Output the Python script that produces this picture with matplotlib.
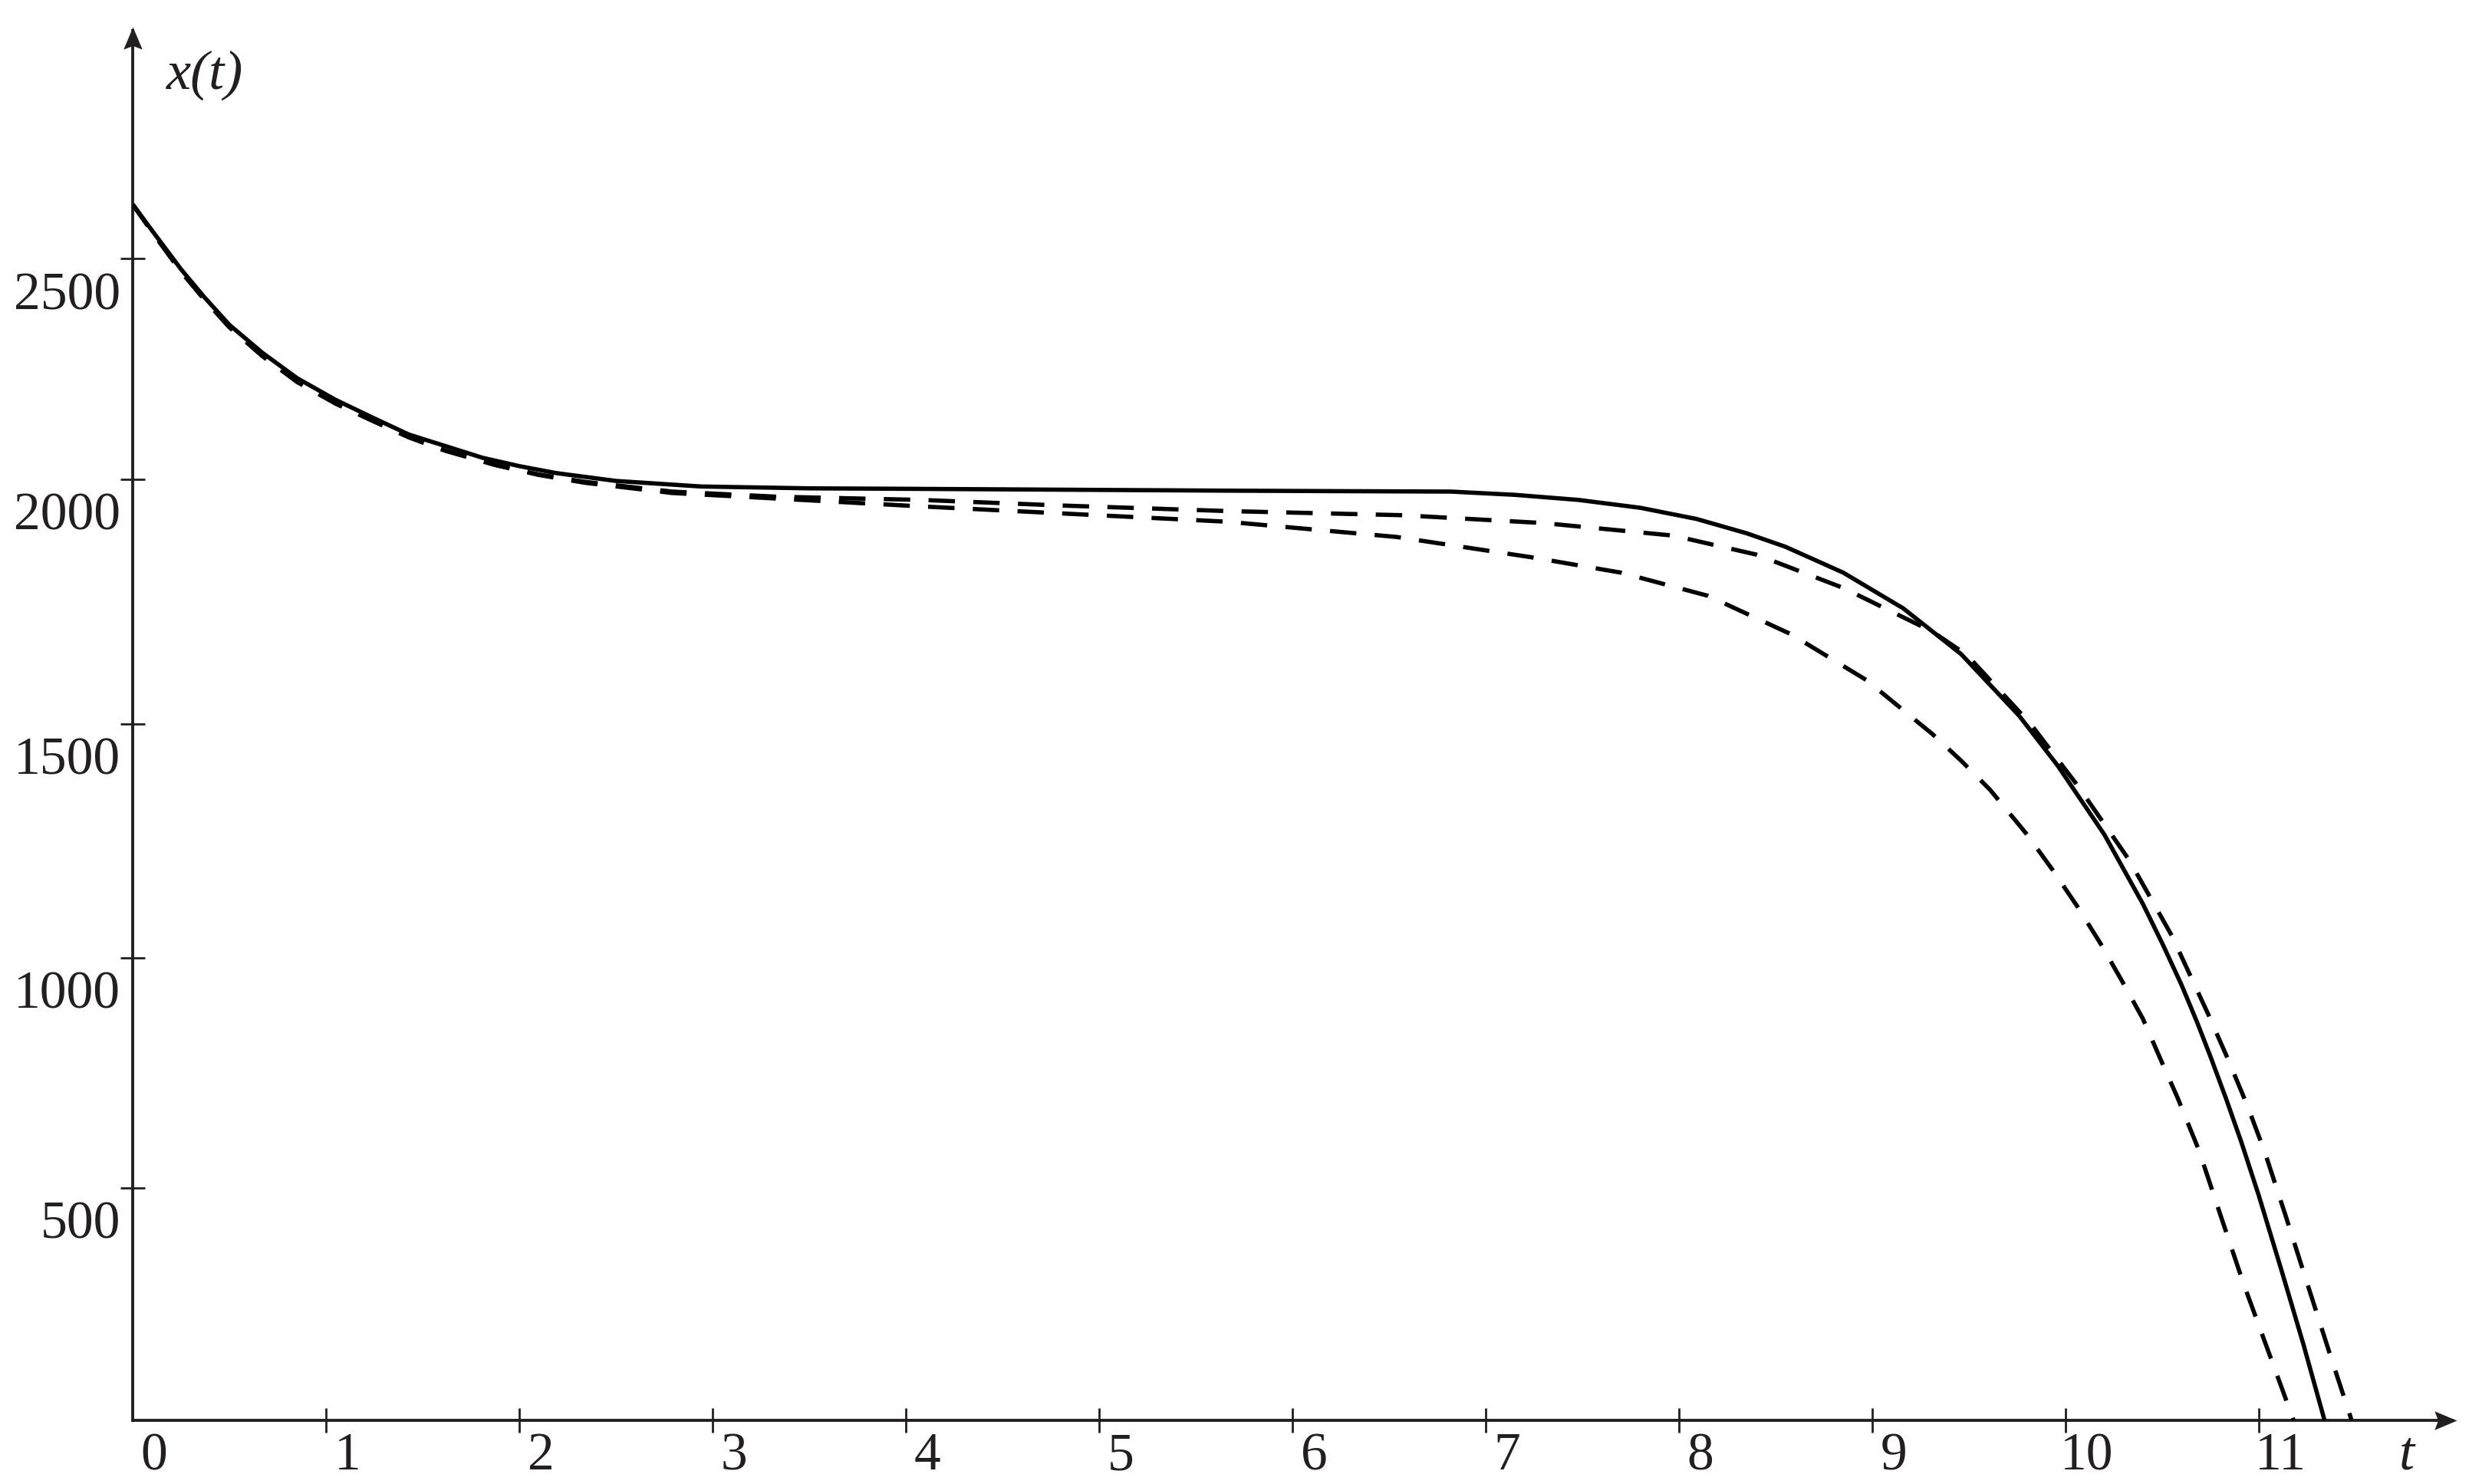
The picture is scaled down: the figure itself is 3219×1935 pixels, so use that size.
import matplotlib
matplotlib.use("Agg")
import matplotlib.pyplot as plt
from matplotlib.transforms import ScaledTranslation
from matplotlib.path import Path

# ---------------- data ----------------
t_solid = [0.00, 0.11, 0.25, 0.37, 0.50, 0.67, 0.85, 1.05, 1.25, 1.43, 1.62, 1.81,
           2.00, 2.19, 2.50, 2.94, 3.50, 4.00, 4.84, 5.66, 6.20, 6.82, 7.15, 7.48,
           7.80, 8.09, 8.35, 8.55, 8.85, 9.16, 9.46, 9.76, 9.96, 10.20, 10.40,
           10.50, 10.60, 10.68, 10.75, 10.83, 10.91, 11.00, 11.12, 11.23, 11.34]
x_solid = [2625, 2563, 2485, 2425, 2365, 2305, 2250, 2203, 2163, 2128, 2103, 2078,
           2060, 2045, 2028, 2016, 2012, 2011, 2009, 2007, 2006, 2005, 1998, 1987,
           1970, 1946, 1915, 1886, 1830, 1753, 1654, 1521, 1413, 1265, 1115,
           1030, 940, 860, 785, 695, 600, 485, 320, 165, 0]

t_dash_a = [0.00, 0.11, 0.25, 0.37, 0.50, 0.67, 0.85, 1.05, 1.24, 1.43, 1.62, 1.88,
            2.10, 2.34, 2.79, 3.33, 4.08, 4.80, 5.66, 6.57, 7.30, 7.97, 8.40, 8.85,
            9.31, 9.49, 9.82, 10.07, 10.33, 10.55, 10.74, 10.84, 10.94, 11.03,
            11.14, 11.25, 11.37, 11.48]
x_dash_a = [2625, 2560, 2480, 2420, 2360, 2298, 2242, 2195, 2158, 2122, 2093, 2062,
            2042, 2026, 2005, 1994, 1987, 1975, 1963, 1954, 1937, 1910, 1869, 1797,
            1703, 1652, 1503, 1366, 1209, 1046, 875, 780, 680, 580,
            440, 296, 140, 0]

t_dash_b = [0.00, 0.11, 0.25, 0.37, 0.50, 0.67, 0.85, 1.05, 1.24, 1.43, 1.62, 1.88,
            2.10, 2.34, 2.79, 3.33, 4.08, 4.80, 5.66, 6.54, 7.24, 7.70, 8.15, 8.58,
            8.97, 9.31, 9.46, 9.61, 9.80, 9.93, 10.06, 10.18, 10.29, 10.40, 10.49,
            10.58, 10.69, 10.80, 10.92, 11.05, 11.18]
x_dash_b = [2625, 2560, 2480, 2420, 2360, 2298, 2242, 2195, 2158, 2122, 2093, 2062,
            2041, 2024, 2002, 1990, 1973, 1958, 1940, 1907, 1863, 1830, 1780, 1697,
            1598, 1482, 1424, 1361, 1265, 1190, 1110, 1030, 950, 867, 781,
            696, 583, 445, 296, 148, 0]

x_tick_pos = [0, 1, 2, 3, 4, 5, 6, 7, 8, 9, 10, 11]
x_tick_labels = ["0", "1", "2", "3", "4", "5", "6", "7", "8", "9", "10", "11"]
y_tick_pos = [502, 999, 1504, 2032, 2508]
y_tick_labels = ["500", "1000", "1500", "2000", "2500"]

x_label = "t"
y_label = "x(t)"

# ---------------- style ----------------
W, H, DPI = 3219, 1935, 100
AX_C = "#231f20"
LINE_C = "#000000"
FS = 50
plt.rcParams['font.family'] = ['Liberation Serif', 'DejaVu Serif']

fig = plt.figure(figsize=(W / DPI, H / DPI), dpi=DPI)
fig.patch.set_facecolor("white")
ax = fig.add_axes([173 / W, 83 / H, 3024 / W, 1812 / H])
ax.set_xlim(0, 12)
ax.set_ylim(0, 3000)

lw = 4.0
dash = (0, (6.2, 4.3))
ax.plot(t_solid, x_solid, color=LINE_C, lw=lw, solid_capstyle='butt', solid_joinstyle='round', zorder=3)
ax.plot(t_dash_a, x_dash_a, color=LINE_C, lw=lw, linestyle=dash, dash_capstyle='butt', zorder=3)
ax.plot(t_dash_b, x_dash_b, color=LINE_C, lw=lw, linestyle=dash, dash_capstyle='butt', zorder=3)

for s in ['top', 'right']:
    ax.spines[s].set_visible(False)
for s in ['left', 'bottom']:
    ax.spines[s].set_linewidth(2.8)
    ax.spines[s].set_color(AX_C)

ax.set_xticks([p for p in x_tick_pos if p > 0])
ax.set_yticks(y_tick_pos)
ax.tick_params(direction='inout', length=23, width=2.0, color=AX_C,
               labelbottom=False, labelleft=False)

# tick labels, placed below/right of the ticks as in the reference
for p, lab in zip(x_tick_pos, x_tick_labels):
    tr = ax.get_xaxis_transform() + ScaledTranslation(28 / DPI, -64 / DPI, fig.dpi_scale_trans)
    ax.text(p, 0, lab, transform=tr, ha='center', va='baseline', fontsize=FS, color=AX_C)
for p, lab in zip(y_tick_pos, y_tick_labels):
    tr = ax.get_yaxis_transform() + ScaledTranslation(-16 / DPI, -66 / DPI, fig.dpi_scale_trans)
    ax.text(0, p, lab, transform=tr, ha='right', va='baseline', fontsize=FS, color=AX_C)

# arrow heads
arrow_r = Path([(0, 0), (-1, 0.42), (-0.84, 0), (-1, -0.42), (0, 0)],
               [Path.MOVETO, Path.LINETO, Path.LINETO, Path.LINETO, Path.CLOSEPOLY])
arrow_u = Path([(0, 0), (0.42, -1), (0, -0.84), (-0.42, -1), (0, 0)],
               [Path.MOVETO, Path.LINETO, Path.LINETO, Path.LINETO, Path.CLOSEPOLY])
ax.plot([1.002], [0], marker=arrow_r, ms=42, color=AX_C, mec='none',
        transform=ax.transAxes, clip_on=False, zorder=5)
ax.plot([0], [1.003], marker=arrow_u, ms=42, color=AX_C, mec='none',
        transform=ax.transAxes, clip_on=False, zorder=5)

# axis labels
fig.text(217 / W, (H - 116) / H, y_label, fontstyle='italic', ha='left', va='baseline',
         fontsize=FS + 2, color=AX_C)
fig.text(3128 / W, (H - 1915) / H, x_label, fontstyle='italic', ha='left', va='baseline',
         fontsize=FS + 2, color=AX_C)

fig.savefig("out.png", dpi=DPI, facecolor="white")
